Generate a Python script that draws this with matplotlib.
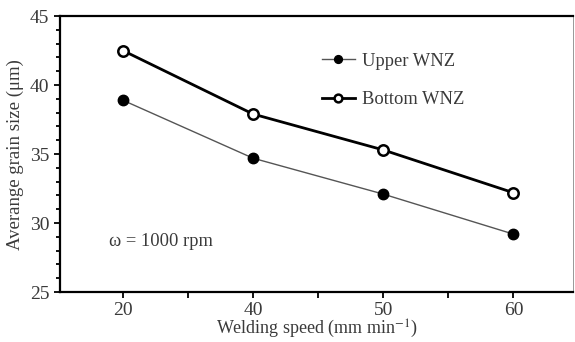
import numpy as np
import matplotlib.pyplot as plt
from matplotlib.ticker import FixedLocator, MultipleLocator

speeds = ['20', '40', '50', '60']
upper_wnz = [38.9, 34.7, 32.1, 29.2]
bottom_wnz = [42.5, 37.9, 35.3, 32.2]

plt.rcParams['font.family'] = ['Liberation Serif', 'DejaVu Serif']
plt.rcParams['mathtext.fontset'] = 'stix'
txt = '#3a3a3a'

fig = plt.figure(figsize=(5.75, 3.42), dpi=100)
ax = fig.add_axes([0.104, 0.146, 0.893, 0.807])

xpos = np.arange(len(speeds)) * 2
ax.plot(xpos, upper_wnz, color='#555555', lw=1.0, marker='o', ms=7.5,
        mfc='black', mec='black', label='Upper WNZ')
ax.plot(xpos, bottom_wnz, color='black', lw=2.0, marker='o', ms=7.5,
        mfc='white', mec='black', mew=1.8, label='Bottom WNZ')

ax.set_xlim(-0.97, 6.92)
ax.set_ylim(25, 45)
ax.xaxis.set_major_locator(FixedLocator(xpos))
ax.set_xticklabels(speeds)
ax.xaxis.set_minor_locator(FixedLocator([1, 3, 5]))
ax.yaxis.set_major_locator(MultipleLocator(5))
ax.yaxis.set_minor_locator(MultipleLocator(1))

ax.tick_params(which='both', direction='out', colors='black', labelcolor=txt,
               labelsize=14, width=1.3)
ax.tick_params(which='major', length=4)
ax.tick_params(which='minor', length=3)
ax.tick_params(axis='x', which='minor', length=4)

for s in ['left', 'bottom', 'top']:
    ax.spines[s].set_linewidth(1.6)
ax.spines['right'].set_linewidth(0.6)
ax.spines['right'].set_color('#888888')

ax.set_xlabel('Welding speed (mm min$^{-1}$)', fontsize=13, color=txt, labelpad=-1)
ax.set_ylabel('Averange grain size (\u03bcm)', fontsize=13.5, color=txt, labelpad=4)

ax.text(0.095, 0.185, '\u03c9 = 1000 rpm', transform=ax.transAxes,
        fontsize=13.3, color=txt, va='center')

leg = ax.legend(loc='upper left', bbox_to_anchor=(0.478, 0.927), frameon=False,
                fontsize=13.3, handlelength=1.8, labelspacing=1.17,
                handletextpad=0.35, markerscale=0.75)
for t in leg.get_texts():
    t.set_color(txt)

fig.savefig('out.png', dpi=100)
